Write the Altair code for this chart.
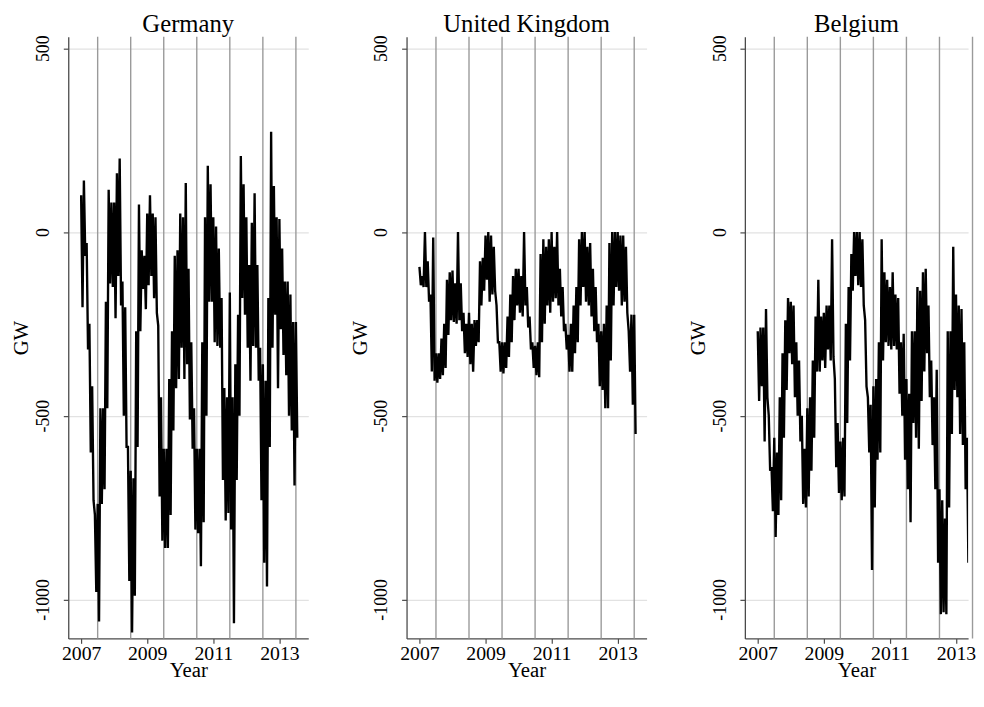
import altair as alt
import pandas as pd

# ---- data (monthly upper / lower envelope, Jan 2007 .. Jul 2013) ----
start_year = 2007.0
germany_upper = [100, 140, -30, -250, -420, -770, -740, -480, -480, -190, 115, 80,
                 80, 160, 200, -135, -205, -585, -650, -670, -270, 75, -50, -65,
                 50, 100, 50, 40, -255, -450, -590, -590, -400, -270, -65, -50,
                 50, 40, 133, -100, -300, -480, -590, -590, -300, 40, 180, 130,
                 40, 15, -45, -180, -425, -450, -165, -450, -360, -225, 207, 130,
                 40, -90, 25, 105, -90, -315, -360, -405, -180, 273, 125, 40,
                 35, -45, -135, -135, -170, -245, -245]
germany_lower = [-205, -65, -320, -600, -730, -980, -1060, -740, -700, -480, -140, -150,
                 -235, -120, -200, -500, -585, -950, -1090, -990, -585, -270, -155, -210,
                 -145, -120, -180, -220, -720, -840, -860, -860, -770, -540, -425, -400,
                 -315, -400, -360, -510, -590, -810, -820, -910, -790, -500, -190, -190,
                 -300, -310, -315, -675, -785, -765, -810, -1065, -675, -500, -180, -225,
                 -315, -405, -310, -315, -405, -730, -900, -965, -585, -315, -225, -425,
                 -265, -335, -390, -500, -540, -690, -560]

uk_upper = [-95, -120, 0, -80, -170, -15, -330, -330, -290, -250, -130, -110,
            -105, -140, 0, -140, -220, -250, -220, -250, -240, -240, -80, -70,
            -10, 0, -10, -40, -200, -300, -300, -300, -230, -170, -120, -100,
            -100, -120, 0, -150, -230, -300, -310, -300, -60, -20, -40, -20,
            0, -40, 0, -100, -150, -250, -280, -250, -200, -150, -20, 0,
            0, -40, -30, -100, -150, -250, -270, -250, -200, -30, 0, 0,
            0, -10, -10, -40, -270, -225, -225]
uk_lower = [-145, -150, -150, -190, -380, -405, -410, -400, -390, -370, -280, -240,
            -245, -250, -240, -270, -330, -340, -360, -380, -310, -300, -200, -160,
            -130, -190, -170, -160, -300, -380, -385, -370, -340, -300, -240, -200,
            -220, -230, -200, -260, -320, -370, -390, -395, -300, -250, -200, -220,
            -190, -180, -200, -230, -270, -320, -380, -380, -330, -300, -200, -150,
            -190, -200, -230, -270, -300, -420, -430, -480, -480, -350, -200, -150,
            -160, -200, -190, -220, -380, -470, -550]

belgium_upper = [-270, -260, -260, -210, -500, -640, -560, -600, -450, -330, -240, -180,
                 -190, -200, -300, -350, -500, -590, -480, -450, -350, -230, -130, -230,
                 -220, -200, -200, -20, -400, -520, -570, -560, -250, -150, -60, 0,
                 0, 0, -20, -240, -450, -470, -420, -400, -300, -20, -110, -130,
                 -150, -110, -170, -180, -300, -277, -400, -440, -270, -270, -150, -160,
                 -110, -100, -200, -350, -450, -375, -700, -730, -780, -270, -270, -40,
                 -170, -200, -210, -300, -560, -550, -500]
belgium_lower = [-460, -420, -570, -450, -650, -760, -830, -770, -730, -560, -430, -330,
                 -360, -450, -500, -570, -740, -750, -720, -650, -560, -380, -380, -350,
                 -370, -320, -350, -340, -640, -710, -730, -720, -520, -350, -160, -120,
                 -145, -150, -200, -420, -600, -920, -750, -620, -600, -350, -300, -310,
                 -320, -310, -320, -440, -500, -620, -700, -790, -520, -560, -590, -460,
                 -380, -330, -450, -580, -700, -900, -1040, -1035, -1040, -750, -550, -430,
                 -450, -550, -580, -700, -900, -990, -940]

mid_years = [2007.5, 2008.5, 2009.5, 2010.5, 2011.5, 2012.5, 2013.5]
x_ticks = [2007, 2009, 2011, 2013]
y_ticks = [500, 0, -500, -1000]
countries = ["Germany", "United Kingdom", "Belgium"]

FONT = "Liberation Serif"
X_MIN = 2006.61
Y_DOMAIN = [-1106, 531]
PX_PER_YEAR = 33.45
PLOT_H = 609


def zigzag(upper, lower):
    rows = []
    for i, (u, l) in enumerate(zip(upper, lower)):
        t = start_year + i / 12.0
        rows.append({"t": t, "v": u, "o": 2 * i})
        rows.append({"t": t + 1.0 / 24.0, "v": l, "o": 2 * i + 1})
    return pd.DataFrame(rows)


def panel(name, upper, lower, width):
    x_max = X_MIN + width / PX_PER_YEAR
    xs = alt.Scale(domain=[X_MIN, x_max], nice=False, zero=False)
    ys = alt.Scale(domain=Y_DOMAIN, nice=False, zero=False)
    x_axis = alt.Axis(values=x_ticks, format="d", title="Year", grid=False,
                      labelFontSize=20, labelPadding=0, titlePadding=-3)
    y_axis = alt.Axis(values=y_ticks, title="GW", grid=True, gridColor="#e2e2e2",
                      gridWidth=1.2, labelAngle=-90, labelAlign="center",
                      labelBaseline="alphabetic", labelFontSize=18,
                      labelPadding=15, titlePadding=3,
                      labelExpr="datum.value + ''")
    rules = alt.Chart(pd.DataFrame({"t": mid_years})).mark_rule(
        color="#9a9a9a", strokeWidth=1.4
    ).encode(x=alt.X("t:Q", scale=xs, axis=x_axis))
    line = alt.Chart(zigzag(upper, lower)).mark_line(
        color="black", strokeWidth=2.4, clip=True
    ).encode(
        x=alt.X("t:Q", scale=xs, axis=x_axis),
        y=alt.Y("v:Q", scale=ys, axis=y_axis),
        order="o:Q",
    )
    return alt.layer(rules, line).properties(width=width, height=PLOT_H, title=name)


chart = alt.hconcat(
    panel(countries[0], germany_upper, germany_lower, 243),
    panel(countries[1], uk_upper, uk_lower, 243),
    panel(countries[2], belgium_upper, belgium_lower, 226),
    spacing=40.5,
).properties(
    padding={"left": 2, "top": 0, "right": 0, "bottom": 0}
).configure_axis(
    labelFont=FONT, titleFont=FONT, titleFontSize=21,
    titleFontWeight="normal", labelColor="black", titleColor="black",
    domainColor="#4a4a4a", domainWidth=1.3, tickColor="#4a4a4a", tickSize=5,
    tickWidth=1.2,
).configure_view(stroke=None).configure_title(
    font=FONT, fontSize=25, fontWeight="normal", color="black", anchor="middle",
    offset=-2,
)

chart.save("out.html", embed_options={"renderer": "svg", "actions": False})
